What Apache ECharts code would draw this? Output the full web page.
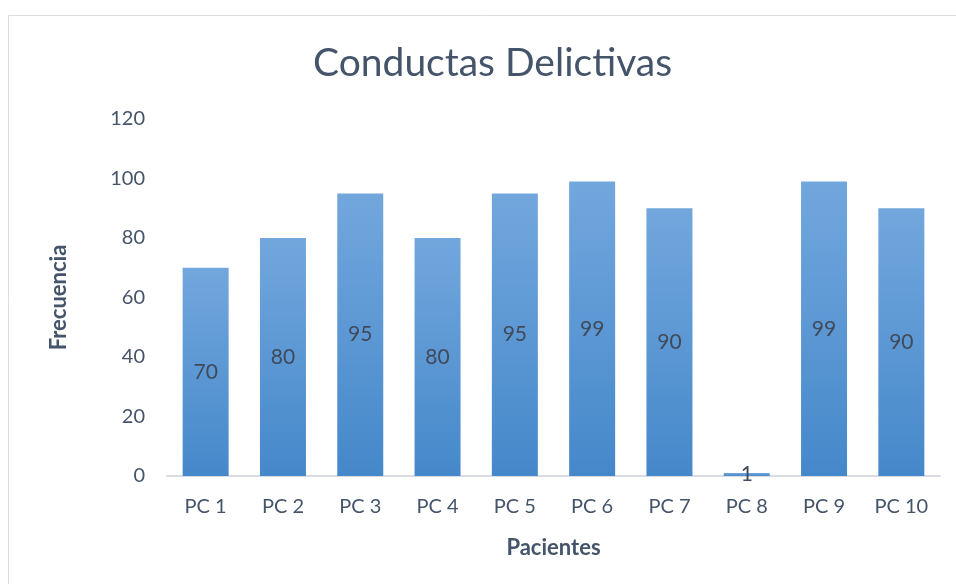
<!DOCTYPE html>
<html>
<head>
<meta charset="utf-8">
<script src="https://cdn.jsdelivr.net/npm/echarts@6/dist/echarts.min.js"></script>
<style>
  html, body { margin: 0; padding: 0; background: #fff; }
  #chart { width: 956px; height: 584px; }
</style>
</head>
<body>
<div id="chart"></div>
<script>
// datos del gráfico
const categories = ['PC 1', 'PC 2', 'PC 3', 'PC 4', 'PC 5', 'PC 6', 'PC 7', 'PC 8', 'PC 9', 'PC 10'];
const values = [70, 80, 95, 80, 95, 99, 90, 1, 99, 90];
const yTicks = [0, 20, 40, 60, 80, 100, 120];

const textColor = '#44546A';
const font = 'Lato, "Open Sans", sans-serif';

const chart = echarts.init(document.getElementById('chart'));

const option = {
  backgroundColor: '#fff',
  animation: false,
  graphic: [{
    type: 'rect',
    shape: { x: 8.5, y: 15.5, width: 1000, height: 1000 },
    style: { fill: 'none', stroke: '#d9dde3', lineWidth: 1 },
    silent: true
  }],
  title: {
    text: 'Conductas Delictivas',
    left: 308,
    top: 39,
    textStyle: { color: textColor, fontSize: 39, fontWeight: 'normal', fontFamily: font }
  },
  grid: { left: 167, right: 16, top: 119, bottom: 108 },
  xAxis: {
    type: 'category',
    data: categories,
    name: 'Pacientes',
    nameLocation: 'middle',
    nameGap: 61,
    nameTextStyle: { color: textColor, fontSize: 22, fontWeight: 'bold', fontFamily: font },
    axisLine: { lineStyle: { color: '#d9dde3', width: 2 } },
    axisTick: { show: false },
    axisLabel: { color: textColor, fontSize: 20, margin: 21, fontFamily: font }
  },
  yAxis: {
    type: 'value',
    min: yTicks[0],
    max: yTicks[yTicks.length - 1],
    interval: 20,
    name: 'Frecuencia',
    nameLocation: 'middle',
    nameGap: 97,
    nameTextStyle: { color: textColor, fontSize: 22, fontWeight: 'bold', fontFamily: font },
    axisLine: { show: false },
    axisTick: { show: false },
    splitLine: { show: false },
    axisLabel: { color: textColor, fontSize: 20, margin: 22, fontFamily: font }
  },
  series: [{
    type: 'bar',
    data: values,
    barWidth: 46,
    itemStyle: {
      color: new echarts.graphic.LinearGradient(0, 0, 0, 1, [
        { offset: 0, color: '#72a7dd' },
        { offset: 1, color: '#4588ca' }
      ])
    },
    label: {
      show: true,
      position: 'inside',
      color: '#404a5a',
      fontSize: 21,
      fontFamily: font
    }
  }]
};

chart.setOption(option);
</script>
</body>
</html>
